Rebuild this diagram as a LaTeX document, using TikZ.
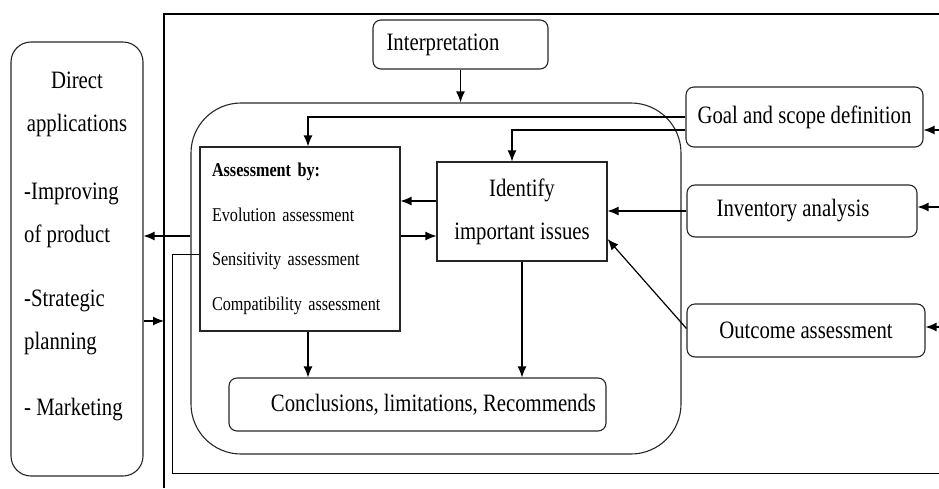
\documentclass[tikz,border=0pt]{standalone}
\usepackage{fontspec}
\setmainfont[FakeStretch=0.83]{Liberation Serif}
\usetikzlibrary{arrows.meta}

\begin{document}
\begin{tikzpicture}[
    x=1pt, y=-1pt, % pixel grid, y runs downwards
    font=\fontsize{25}{43}\selectfont,
    box/.style={draw=black!85, line width=1.1pt, inner sep=0pt, align=center},
    rbox/.style={box, rounded corners=8pt},
    small/.style={font=\fontsize{19.5}{44.5}\selectfont},
    arr/.style={-{Latex[length=11pt,width=9pt]}, line width=1.2pt},
    line/.style={line width=1.1pt}
]
\useasboundingbox (0,0) rectangle (939,488);

% Direct applications
\node[rbox, rounded corners=20pt, minimum width=132pt, minimum height=434pt] (apps) at (77,259) {};
\node[align=center, inner sep=0pt] (apptitle) at (77,104) {Direct\\applications};
\node[align=left, inner sep=0pt, anchor=north west] (applist) at (24,183) {
    -Improving\\of product\\[21pt]
    -Strategic\\planning\\[23pt]
    - Marketing};

% outer frame
\draw[line] (939,14) -- (164,14) -- (164,488);

% Interpretation
\node[rbox, minimum width=175pt, minimum height=49pt] (interp) at (460.5,44.5) {Interpretation\hspace*{35pt}};

% review block
\node[box, rounded corners=50pt, minimum width=490pt, minimum height=351pt] (review) at (436,278.5) {};

% Assessment
\node[box, small, align=left, inner xsep=12pt, text width=176pt, minimum height=184pt] (assess) at (300,239) {
    \textbf{Assessment by:}\\
    Evolution assessment\\
    Sensitivity assessment\\
    Compatibility assessment};

% Identify
\node[box, minimum width=170pt, minimum height=99pt] (ident) at (522,211.5) {Identify\\important issues};

% Conclusions
\node[rbox, minimum width=377pt, minimum height=53pt] (concl) at (417.5,404.5) {\hspace*{32pt}Conclusions, limitations, Recommends};

% inputs
\node[rbox, minimum width=237pt, minimum height=60pt] (goal) at (804.5,117) {Goal and scope definition};
\node[rbox, minimum width=230pt, minimum height=52pt] (inv) at (802,211) {Inventory analysis\hspace*{18pt}};
\node[rbox, minimum width=238pt, minimum height=53pt] (outc) at (806,330.5) {Outcome assessment};

\coordinate (ingoal) at (939,130);
\coordinate (ininv) at (939,207);
\coordinate (inoutc) at (939,327);
\coordinate (frameleft) at (164,321);
\coordinate (fbturn) at (172,473);
\coordinate (fbend) at (939,473);

% connectors
\draw[arr] (interp.south) -- (interp.south |- review.north);
\draw[arr] (goal.west) -| ([xshift=8pt]assess.north);
\draw[arr] ([yshift=-13pt]goal.west) -| ([xshift=-10pt]ident.north);
\draw[arr] (inv.west) -- (inv.west -| ident.east);
\draw[arr] ([yshift=2pt]outc.west) -- ([yshift=-27.5pt]ident.east);
\draw[arr] ([yshift=10.5pt]ident.west) -- ([yshift=10.5pt]ident.west -| assess.east);
\draw[arr] ([yshift=-24.5pt]ident.west -| assess.east) -- ([yshift=-24.5pt]ident.west);
\draw[arr] ([xshift=8pt]assess.south) -- ([xshift=8pt]assess.south |- concl.north);
\draw[arr] (ident.south) -- (ident.south |- concl.north);
\draw[arr] ([yshift=42.5pt]review.west) -- ([yshift=42.5pt]review.west -| apps.east);
\draw[arr] (apps.east |- frameleft) -- (frameleft);
\draw[line, line width=0.8pt] ([yshift=-15pt]assess.west) -| (fbturn) -- (fbend);
\draw[arr] (ingoal) -- (ingoal -| goal.east);
\draw[arr] (ininv) -- (ininv -| inv.east);
\draw[arr] (inoutc) -- (inoutc -| outc.east);

\end{tikzpicture}
\end{document}
